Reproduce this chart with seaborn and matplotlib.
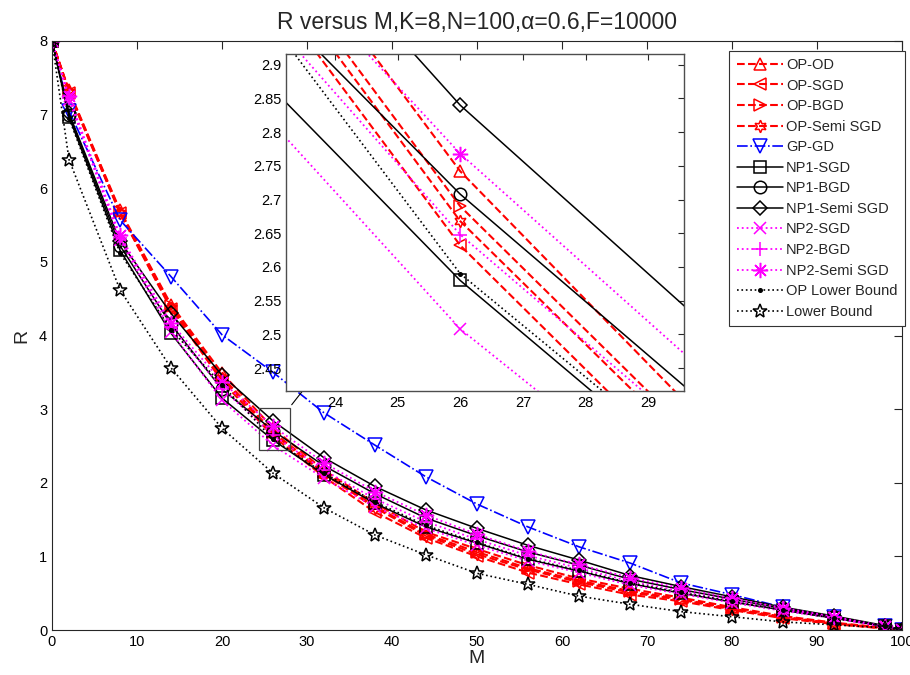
import numpy as np
import matplotlib
matplotlib.use("Agg")
import matplotlib.pyplot as plt
import seaborn as sns
from matplotlib.patches import Rectangle
from matplotlib.ticker import FuncFormatter

sns.set_style("white")
plt.rcParams['font.family'] = ['Liberation Sans', 'DejaVu Sans']

# number of antennas / users axis
M = [0, 2, 8, 14, 20, 26, 32, 38, 44, 50, 56, 62, 68, 74, 80, 86, 92, 98, 100]

op_od = [8, 7.33, 5.70, 4.42, 3.49, 2.742, 2.17, 1.72, 1.33, 1.10, 0.88, 0.70, 0.56, 0.44, 0.31, 0.19, 0.10, 0.03, 0]
op_sgd = [8, 7.30, 5.66, 4.36, 3.38, 2.632, 2.08, 1.60, 1.25, 1.00, 0.78, 0.62, 0.48, 0.39, 0.27, 0.16, 0.08, 0.02, 0]
op_bgd = [8, 7.32, 5.68, 4.40, 3.44, 2.690, 2.14, 1.68, 1.30, 1.06, 0.84, 0.67, 0.53, 0.42, 0.29, 0.18, 0.09, 0.03, 0]
op_semi = [8, 7.31, 5.67, 4.38, 3.42, 2.668, 2.12, 1.66, 1.28, 1.03, 0.82, 0.65, 0.51, 0.41, 0.28, 0.17, 0.09, 0.02, 0]
gp_gd = [8, 7.05, 5.57, 4.80, 4.01, 3.50, 2.95, 2.51, 2.08, 1.71, 1.40, 1.13, 0.91, 0.64, 0.48, 0.31, 0.17, 0.05, 0]
np1_sgd = [8, 6.97, 5.16, 4.03, 3.15, 2.580, 2.11, 1.72, 1.40, 1.18, 0.96, 0.80, 0.63, 0.50, 0.38, 0.27, 0.16, 0.05, 0]
np1_bgd = [8, 7.00, 5.22, 4.15, 3.27, 2.708, 2.23, 1.85, 1.52, 1.28, 1.06, 0.88, 0.69, 0.55, 0.42, 0.29, 0.18, 0.05, 0]
np1_semi = [8, 7.02, 5.28, 4.30, 3.46, 2.840, 2.34, 1.95, 1.63, 1.38, 1.15, 0.95, 0.74, 0.59, 0.45, 0.31, 0.19, 0.06, 0]
np2_sgd = [8, 7.20, 5.30, 4.05, 3.12, 2.508, 2.06, 1.67, 1.38, 1.15, 0.94, 0.78, 0.61, 0.49, 0.37, 0.26, 0.16, 0.04, 0]
np2_bgd = [8, 7.22, 5.33, 4.12, 3.28, 2.648, 2.17, 1.78, 1.47, 1.23, 1.01, 0.84, 0.66, 0.53, 0.40, 0.28, 0.17, 0.04, 0]
np2_semi = [8, 7.25, 5.36, 4.17, 3.37, 2.768, 2.27, 1.88, 1.56, 1.30, 1.07, 0.89, 0.71, 0.57, 0.43, 0.30, 0.18, 0.05, 0]
op_lb = [8, 6.95, 5.12, 4.08, 3.33, 2.590, 2.13, 1.74, 1.42, 1.19, 0.97, 0.81, 0.64, 0.51, 0.39, 0.27, 0.16, 0.05, 0]
lower_bound = [8, 6.39, 4.62, 3.56, 2.74, 2.13, 1.66, 1.29, 1.02, 0.77, 0.62, 0.46, 0.35, 0.25, 0.18, 0.11, 0.07, 0.03, 0]

asterisk = (8, 2, 0)
hexagram = (6, 1, 0)

# label, values, color, linestyle, marker, markersize, linewidth
series = [
    ("OP-OD", op_od, "#ff0000", "--", "^", 8, 1.5),
    ("OP-SGD", op_sgd, "#ff0000", "--", "<", 8, 1.5),
    ("OP-BGD", op_bgd, "#ff0000", "--", ">", 8, 1.5),
    ("OP-Semi SGD", op_semi, "#ff0000", "--", hexagram, 9, 1.5),
    ("GP-GD", gp_gd, "#0000ff", "-.", "v", 10, 1.2),
    ("NP1-SGD", np1_sgd, "k", "-", "s", 9, 1.1),
    ("NP1-BGD", np1_bgd, "k", "-", "o", 9, 1.1),
    ("NP1-Semi SGD", np1_semi, "k", "-", "D", 7, 1.1),
    ("NP2-SGD", np2_sgd, "#ff00ff", ":", "x", 8, 1.3),
    ("NP2-BGD", np2_bgd, "#ff00ff", ":", "+", 10, 1.3),
    ("NP2-Semi SGD", np2_semi, "#ff00ff", ":", asterisk, 11, 1.3),
    ("OP Lower Bound", op_lb, "k", ":", ".", 5, 1.2),
    ("Lower Bound", lower_bound, "k", ":", "*", 10, 1.2),
]


def draw(ax, with_labels):
    for lab, vals, c, ls, mk, ms, lw in series:
        fc = c if mk == "." else "none"
        sns.lineplot(x=M, y=vals, ax=ax, color=c, linestyle=ls, marker=mk,
                     markersize=ms, markerfacecolor=fc, markeredgecolor=c,
                     markeredgewidth=1.1, linewidth=lw,
                     label=lab if with_labels else None, legend=False)


fig = plt.figure(figsize=(9.1, 6.75), dpi=100)
ax = fig.add_axes([52 / 910, 1 - 630 / 675, 850 / 910, 589 / 675])
draw(ax, True)

ax.set_xlim(0, 100)
ax.set_ylim(0, 8)
ax.set_xticks(np.arange(0, 101, 10))
ax.set_yticks(np.arange(0, 9, 1))
ax.tick_params(direction="in", top=True, right=True, length=6, width=0.8,
               labelsize=10.5, colors="0.15", labelcolor="k")
for sp in ax.spines.values():
    sp.set_color("0.15")
    sp.set_linewidth(0.8)
ax.set_xlabel("M", fontsize=14, labelpad=1)
ax.set_ylabel("R", fontsize=14, labelpad=6)
ax.set_title("R versus M,K=8,N=100,\u03b1=0.6,F=10000", fontsize=16.5, pad=9)

# zoom box and arrow
ax.add_patch(Rectangle((24.4, 2.45), 3.6, 0.56, fill=False, edgecolor="0.25", linewidth=0.9, zorder=20))
ax.annotate("", xy=(31.6, 3.56), xytext=(28.0, 3.03),
            arrowprops=dict(arrowstyle="-|>", color="k", lw=0.8, mutation_scale=14), zorder=20)

handles, labels = ax.get_legend_handles_labels()
leg = ax.legend(handles, labels, loc="upper right", bbox_to_anchor=(905 / 910, 1 - 50.7 / 675),
                bbox_transform=fig.transFigure, borderaxespad=0, fontsize=10.5,
                handlelength=3.2, handletextpad=0.2, labelspacing=0.45, borderpad=0.5,
                fancybox=False, framealpha=1, edgecolor="0.2")
leg.get_frame().set_linewidth(0.8)

# inset
ax2 = fig.add_axes([286 / 910, 1 - 391 / 675, 398 / 910, 337 / 675])
ax2.set_facecolor("white")
draw(ax2, False)
ax2.set_xlim(23.22, 29.57)
ax2.set_ylim(2.416, 2.916)
ax2.set_xticks(np.arange(24, 30, 1))
ax2.set_yticks(np.arange(2.45, 2.91, 0.05))
ax2.yaxis.set_major_formatter(FuncFormatter(lambda v, p: f"{v:.2f}".rstrip("0").rstrip(".")))
ax2.tick_params(direction="in", top=True, right=True, length=4, width=0.8,
                labelsize=10.5, colors="0.15", labelcolor="k")
for sp in ax2.spines.values():
    sp.set_color("0.3")
    sp.set_linewidth(1.0)
ax2.set_xlabel("")
ax2.set_ylabel("")

fig.savefig("out.png", dpi=100)
